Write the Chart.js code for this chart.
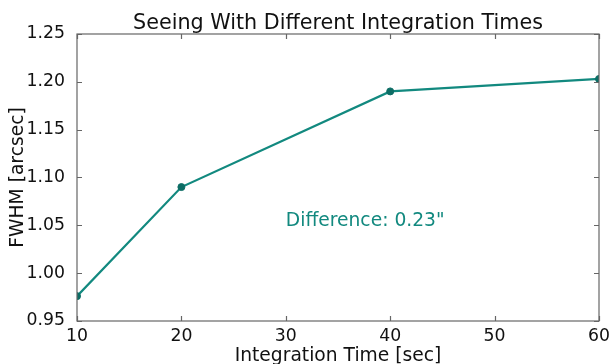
<!DOCTYPE html>
<html>
<head>
<meta charset="utf-8">
<script src="https://cdn.jsdelivr.net/npm/chart.js@4"></script>
<style>
  html, body { margin: 0; padding: 0; background: #ffffff; }
  #wrap { width: 611px; height: 364px; }
</style>
</head>
<body>
<div id="wrap"><canvas id="c" width="611" height="364"></canvas></div>
<script>
// Seeing (FWHM) measured for each integration time
const integrationTimes = [10, 20, 40, 60];
const fwhmValues = [0.976, 1.090, 1.190, 1.203];

// Axis ticks
const xTicks = [10, 20, 30, 40, 50, 60];
const yTicks = [0.95, 1.00, 1.05, 1.10, 1.15, 1.20, 1.25];

// Text
const titleText = 'Seeing With Different Integration Times';
const xTitle = 'Integration Time [sec]';
const yTitle = 'FWHM [arcsec]';
const noteText = 'Difference: 0.23"';
const notePos = { x: 30, y: 1.05 };

const FONT = '"DejaVu Sans", "Liberation Sans", sans-serif';
const LINE_COLOR = '#12897f';
const POINT_COLOR = '#0d6d65';
const FRAME_COLOR = '#666666';

// Frame around the plot, inward tick marks on all four sides, title and note
const framePlugin = {
  id: 'frame',
  afterDatasetsDraw(chart) {
    const { ctx, chartArea: a, scales: { x, y } } = chart;
    ctx.save();
    ctx.strokeStyle = FRAME_COLOR;
    ctx.lineWidth = 1.2;
    ctx.strokeRect(a.left, a.top, a.right - a.left, a.bottom - a.top);
    const len = 5;
    ctx.beginPath();
    xTicks.forEach(v => {
      const px = Math.round(x.getPixelForValue(v)) + 0.5;
      ctx.moveTo(px, a.bottom); ctx.lineTo(px, a.bottom - len);
      ctx.moveTo(px, a.top); ctx.lineTo(px, a.top + len);
    });
    yTicks.forEach(v => {
      const py = Math.round(y.getPixelForValue(v)) + 0.5;
      ctx.moveTo(a.left, py); ctx.lineTo(a.left + len, py);
      ctx.moveTo(a.right, py); ctx.lineTo(a.right - len, py);
    });
    ctx.stroke();

    // note inside the plot
    ctx.fillStyle = LINE_COLOR;
    ctx.font = '18.7px ' + FONT;
    ctx.textAlign = 'left';
    ctx.textBaseline = 'alphabetic';
    ctx.fillText(noteText, x.getPixelForValue(notePos.x), y.getPixelForValue(notePos.y) + 1);

    // title
    ctx.fillStyle = '#111111';
    ctx.font = '20.7px ' + FONT;
    ctx.textAlign = 'center';
    ctx.fillText(titleText, (a.left + a.right) / 2, a.top - 5);
    ctx.restore();
  }
};

new Chart(document.getElementById('c'), {
  type: 'line',
  data: {
    datasets: [{
      data: integrationTimes.map((t, i) => ({ x: t, y: fwhmValues[i] })),
      borderColor: LINE_COLOR,
      borderWidth: 2.2,
      pointBackgroundColor: POINT_COLOR,
      pointBorderColor: POINT_COLOR,
      pointBorderWidth: 1,
      pointRadius: 3.5,
      tension: 0,
      clip: 0
    }]
  },
  options: {
    responsive: false,
    animation: false,
    devicePixelRatio: 1,
    layout: { padding: { top: 34, right: 12, left: 0, bottom: 0 } },
    plugins: {
      legend: { display: false },
      tooltip: { enabled: false },
      title: { display: false }
    },
    scales: {
      x: {
        type: 'linear',
        min: 10, max: 60,
        afterBuildTicks: s => { s.ticks = xTicks.map(v => ({ value: v })); },
        afterFit: s => { s.height = 43; },
        grid: { display: false },
        border: { display: false },
        ticks: {
          color: '#111111',
          padding: -3,
          font: { family: FONT, size: 17.3 },
          maxRotation: 0,
          callback: v => String(v)
        },
        title: {
          display: true,
          text: xTitle,
          color: '#111111',
          font: { family: FONT, size: 18.7 },
          padding: { top: 0, bottom: -3 }
        }
      },
      y: {
        type: 'linear',
        min: 0.95, max: 1.25,
        afterBuildTicks: s => { s.ticks = yTicks.map(v => ({ value: v })); },
        afterFit: s => { s.width = 77; },
        grid: { display: false },
        border: { display: false },
        ticks: {
          color: '#111111',
          padding: 4,
          font: { family: FONT, size: 17.3 },
          callback: v => Number(v).toFixed(2)
        },
        title: {
          display: true,
          text: yTitle,
          color: '#111111',
          font: { family: FONT, size: 18.7 },
          padding: { top: 7, bottom: 0 }
        }
      }
    }
  },
  plugins: [framePlugin]
});
</script>
</body>
</html>
